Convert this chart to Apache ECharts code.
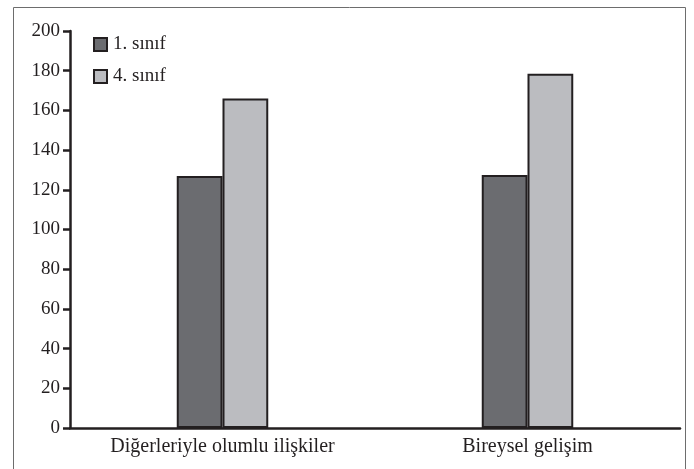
<!DOCTYPE html>
<html>
<head>
<meta charset="utf-8">
<script src="https://cdn.jsdelivr.net/npm/echarts@6/dist/echarts.min.js"></script>
<style>
  html, body { margin: 0; padding: 0; background: #fff; }
  #chart { width: 694px; height: 469px; }
</style>
</head>
<body>
<div id="chart"></div>
<script>
const categories = ["Diğerleriyle olumlu ilişkiler", "Bireysel gelişim"];
const seriesNames = ["1. sınıf", "4. sınıf"];
const grade1 = [127, 127.5];
const grade4 = [166, 178.5];

const ink = "#231f20";
const font = "Liberation Serif";

const chart = echarts.init(document.getElementById("chart"));

chart.setOption({
  animation: false,
  textStyle: { fontFamily: font },
  graphic: [
    {
      type: "rect",
      shape: { x: 13.5, y: 7.5, width: 672, height: 480 },
      style: { fill: "none", stroke: "#6d6d6d", lineWidth: 1 },
      silent: true,
    },
  ],
  grid: { left: 70, right: 14, top: 31, bottom: 41 },
  legend: {
    orient: "vertical",
    left: 88,
    top: 30,
    itemWidth: 13,
    itemHeight: 13,
    itemGap: 13,
    icon: "rect",
    textStyle: { fontFamily: font, fontSize: 19, color: ink, padding: [0, 0, 0, 1] },
    data: seriesNames,
  },
  xAxis: {
    type: "category",
    data: categories,
    axisLine: { lineStyle: { color: ink, width: 2.5 } },
    axisTick: { show: false },
    axisLabel: { fontFamily: font, fontSize: 20, color: ink, margin: 9 },
  },
  yAxis: {
    type: "value",
    min: 0,
    max: 200,
    interval: 20,
    axisLine: { show: true, lineStyle: { color: ink, width: 2.5 } },
    axisTick: { show: true, length: 7, lineStyle: { color: ink, width: 2.5 } },
    axisLabel: { fontFamily: font, fontSize: 19, color: ink, margin: 10 },
    splitLine: { show: false },
  },
  series: [
    {
      name: seriesNames[0],
      type: "bar",
      data: grade1,
      barGap: "0%",
      barCategoryGap: "70%",
      itemStyle: { color: "#6b6c70", borderColor: ink, borderWidth: 2 },
    },
    {
      name: seriesNames[1],
      type: "bar",
      data: grade4,
      itemStyle: { color: "#bbbcc0", borderColor: ink, borderWidth: 2 },
    },
  ],
});
</script>
</body>
</html>
